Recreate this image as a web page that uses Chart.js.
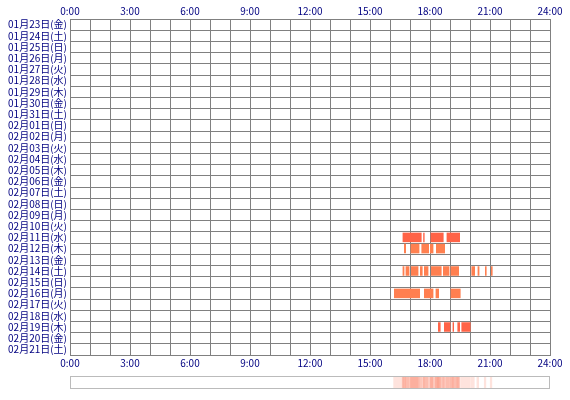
<!DOCTYPE html>
<html><head><meta charset="utf-8">
<script src="https://cdn.jsdelivr.net/npm/chart.js@4"></script>
<style>
body{margin:0;background:#fff;}
#wrap{position:relative;width:570px;height:400px;}
#main{position:absolute;left:0;top:0;}
#strip{position:absolute;left:70px;top:376px;width:478px;height:11px;border:1px solid #bbb;}
</style></head>
<body>
<div id="wrap">
  <canvas id="main" width="570" height="372"></canvas>
  <div id="strip"><canvas id="heat"></canvas></div>
</div>
<script>
// days shown (rows)
const days = ['01月23日(金)','01月24日(土)','01月25日(日)','01月26日(月)','01月27日(火)','01月28日(水)','01月29日(木)','01月30日(金)','01月31日(土)',
  '02月01日(日)','02月02日(月)','02月03日(火)','02月04日(水)','02月05日(木)','02月06日(金)','02月07日(土)','02月08日(日)','02月09日(月)',
  '02月10日(火)','02月11日(水)','02月12日(木)','02月13日(金)','02月14日(土)','02月15日(日)','02月16日(月)','02月17日(火)','02月18日(水)',
  '02月19日(木)','02月20日(金)','02月21日(土)'];

// active intervals, hours [start, end]
const feb11 = [[16.63,17.58],[17.66,17.73],[18.03,18.68],[18.83,19.5]];
const feb12 = [[16.7,16.8],[17.03,17.47],[17.57,17.95],[18.0,18.17],[18.3,18.75]];
const feb14 = [[16.63,16.72],[16.78,16.97],[17.05,17.42],[17.5,17.63],[17.7,17.92],[18.05,18.58],[18.65,18.97],[19.03,19.45],[20.07,20.25],[20.38,20.47],[20.75,20.83],[21.05,21.13]];
const feb16 = [[16.2,17.5],[17.7,18.17],[18.28,18.45],[19.03,19.53]];
const feb19 = [[18.4,18.53],[18.7,19.02],[19.13,19.2],[19.37,19.5],[19.57,20.03]];

const activity = [
  { day: '02月11日(水)', segs: feb11, color: '#ff6347' },
  { day: '02月12日(木)', segs: feb12, color: '#ff8050' },
  { day: '02月14日(土)', segs: feb14, color: '#ff7f50' },
  { day: '02月16日(月)', segs: feb16, color: '#ff7f50' },
  { day: '02月19日(木)', segs: feb19, color: '#ff6347' },
];

const hourTicks = ['0:00','3:00','6:00','9:00','12:00','15:00','18:00','21:00','24:00'];

const datasets = [];
activity.forEach(a => {
  a.segs.forEach(s => {
    datasets.push({
      data: days.map(d => d === a.day ? s : null),
      backgroundColor: a.color, borderWidth: 0,
      barPercentage: 1, categoryPercentage: 0.85, grouped: false
    });
  });
});

const tickFont = { family: '"Noto Sans CJK JP", sans-serif', size: 10 };
const navy = '#000080';
const hourLabel = v => (v % 3 === 0 ? hourTicks[v / 3] : '');

new Chart(document.getElementById('main'), {
  type: 'bar',
  data: { labels: days, datasets },
  options: {
    responsive: false, animation: false, indexAxis: 'y',
    layout: { padding: { right: 20, top: 0 } },
    plugins: { legend: { display: false }, tooltip: { enabled: false } },
    scales: {
      x: {
        type: 'linear', min: 0, max: 24, position: 'bottom',
        ticks: { stepSize: 1, autoSkip: false, maxRotation: 0, color: navy, font: tickFont, padding: 2, callback: hourLabel },
        grid: { color: '#808080', tickLength: 0 },
        border: { color: '#808080' },
        afterFit: s => { s.height = 17; }
      },
      x2: {
        type: 'linear', min: 0, max: 24, position: 'top',
        ticks: { stepSize: 1, autoSkip: false, maxRotation: 0, color: navy, font: tickFont, padding: 2, callback: hourLabel },
        grid: { drawOnChartArea: false, drawTicks: false, tickLength: 0 },
        border: { color: '#808080' },
        afterFit: s => { s.height = 19; }
      },
      y: {
        ticks: { color: navy, font: tickFont, padding: 3, autoSkip: false },
        grid: { color: '#808080', offset: true, tickLength: 0 },
        border: { color: '#808080' },
        afterFit: s => { s.width = 70; }
      }
    }
  }
});

// summary strip: all intervals overlaid with light alpha
const heatSets = [];
activity.forEach(a => a.segs.forEach(s => heatSets.push({
  data: [s], backgroundColor: 'rgba(250,128,100,0.22)', borderWidth: 0,
  barPercentage: 1, categoryPercentage: 1, grouped: false
})));

new Chart(document.getElementById('heat'), {
  type: 'bar',
  data: { labels: ['all'], datasets: heatSets },
  options: {
    responsive: true, maintainAspectRatio: false, animation: false, indexAxis: 'y',
    plugins: { legend: { display: false }, tooltip: { enabled: false } },
    scales: {
      x: { type: 'linear', min: 0, max: 24, display: false },
      y: { display: false }
    }
  }
});
</script>
</body></html>
